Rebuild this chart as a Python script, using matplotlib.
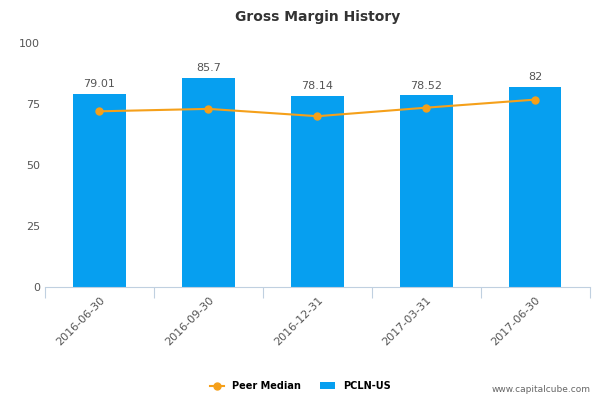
import numpy as np
import matplotlib.pyplot as plt

dates = ["2016-06-30", "2016-09-30", "2016-12-31", "2017-03-31", "2017-06-30"]
pcln = [79.01, 85.7, 78.14, 78.52, 82]
pcln_labels = ["79.01", "85.7", "78.14", "78.52", "82"]
peer_median = [72.0, 73.0, 70.0, 73.5, 76.8]

fig = plt.figure(figsize=(6, 4), dpi=100)
ax = fig.add_axes([0.075, 0.2825, 0.908, 0.61])

x = np.arange(len(dates))
ax.bar(x, pcln, width=0.48, color="#069ff0", zorder=2, label="PCLN-US")
ax.plot(x, peer_median, color="#f5a01a", marker="o", markersize=5, lw=1.5,
        zorder=3, label="Peer Median")
for xi, v, t in zip(x, pcln, pcln_labels):
    ax.text(xi, v + 2, t, ha="center", va="bottom", fontsize=8, color="#555555")

ax.set_xlim(-0.5, len(dates) - 0.5)
ax.set_ylim(0, 100)
ax.set_yticks([0, 25, 50, 75, 100])
ax.tick_params(axis="y", length=0, labelsize=8, colors="#555555")
ax.set_xticks(np.arange(len(dates) + 1) - 0.5, minor=False)
ax.set_xticklabels([""] * (len(dates) + 1))
ax.tick_params(axis="x", length=8, color="#c0d0e0")
ax.set_xticks(x, minor=True)
ax.set_xticklabels(dates, minor=True, rotation=45, ha="right", rotation_mode="anchor",
                   fontsize=8, color="#555555")
ax.tick_params(axis="x", which="minor", length=0, pad=6)
for s in ["top", "right", "left"]:
    ax.spines[s].set_visible(False)
ax.spines["bottom"].set_color("#c0d0e0")

ax.set_title("Gross Margin History", fontsize=10, fontweight="bold", color="#333333", pad=16)
fig.legend(loc="lower center", bbox_to_anchor=(0.5, 0.0), ncol=2, frameon=False,
           fontsize=7, prop={"weight": "bold", "size": 7}, handlelength=1.5)
fig.text(0.985, 0.015, "www.capitalcube.com", ha="right", va="bottom", fontsize=6.5, color="#666666")

fig.savefig("out.png", dpi=100)
